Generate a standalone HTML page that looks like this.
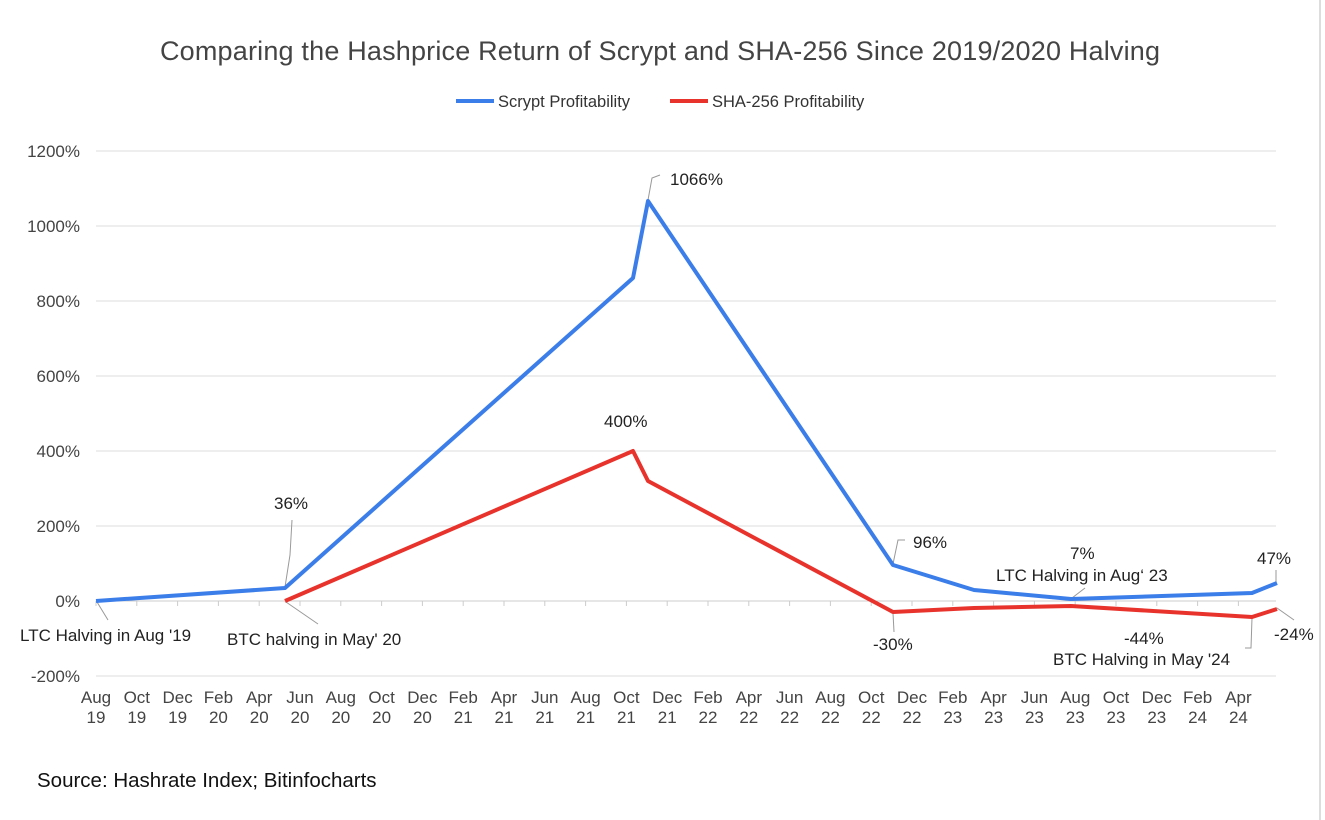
<!DOCTYPE html>
<html><head><meta charset="utf-8"><style>
html,body{margin:0;padding:0;background:#fff;}
svg{display:block;font-family:"Liberation Sans",Arial,sans-serif;}
</style></head><body>
<svg width="1325" height="820" viewBox="0 0 1325 820" xmlns="http://www.w3.org/2000/svg">
<rect width="1325" height="820" fill="#fff"/>
<line x1="1320" y1="0" x2="1320" y2="820" stroke="#bbb" stroke-width="1"/>
<text x="660" y="60" font-size="27" fill="#444" text-anchor="middle" textLength="1000">Comparing the Hashprice Return of Scrypt and SHA-256 Since 2019/2020 Halving</text>
<line x1="456" y1="101" x2="494" y2="101" stroke="#3b7de9" stroke-width="4"/>
<text x="498" y="107" font-size="16.5" fill="#333">Scrypt Profitability</text>
<line x1="670" y1="101" x2="708" y2="101" stroke="#e8332d" stroke-width="4"/>
<text x="712" y="107" font-size="16.5" fill="#333">SHA-256 Profitability</text>
<g stroke="#ddd" stroke-width="1">
<line x1="96" y1="151" x2="1276" y2="151"/>
<line x1="96" y1="226" x2="1276" y2="226"/>
<line x1="96" y1="301" x2="1276" y2="301"/>
<line x1="96" y1="376" x2="1276" y2="376"/>
<line x1="96" y1="451" x2="1276" y2="451"/>
<line x1="96" y1="526" x2="1276" y2="526"/>
<line x1="96" y1="676" x2="1276" y2="676"/>
<line x1="96" y1="601" x2="1276" y2="601" stroke="#ccc"/>
</g>
<g font-size="17" fill="#444" text-anchor="end">
<text x="80" y="157">1200%</text><text x="80" y="232">1000%</text><text x="80" y="307">800%</text>
<text x="80" y="382">600%</text><text x="80" y="457">400%</text><text x="80" y="532">200%</text>
<text x="80" y="607">0%</text><text x="80" y="682">-200%</text>
</g>
<path stroke="#ccc" stroke-width="1" d="M96 601v5M136.8 601v5M177.6 601v5M218.4 601v5M259.2 601v5M300 601v5M340.8 601v5M381.6 601v5M422.4 601v5M463.2 601v5M504 601v5M544.8 601v5M585.6 601v5M626.4 601v5M667.2 601v5M708 601v5M748.8 601v5M789.6 601v5M830.4 601v5M871.2 601v5M912 601v5M952.8 601v5M993.6 601v5M1034.4 601v5M1075.2 601v5M1116 601v5M1156.8 601v5M1197.6 601v5M1238.4 601v5"/>
<g font-size="17" fill="#444" text-anchor="middle">
<text x="96" y="703">Aug</text><text x="96" y="723">19</text>
<text x="136.8" y="703">Oct</text><text x="136.8" y="723">19</text>
<text x="177.6" y="703">Dec</text><text x="177.6" y="723">19</text>
<text x="218.4" y="703">Feb</text><text x="218.4" y="723">20</text>
<text x="259.2" y="703">Apr</text><text x="259.2" y="723">20</text>
<text x="300" y="703">Jun</text><text x="300" y="723">20</text>
<text x="340.8" y="703">Aug</text><text x="340.8" y="723">20</text>
<text x="381.6" y="703">Oct</text><text x="381.6" y="723">20</text>
<text x="422.4" y="703">Dec</text><text x="422.4" y="723">20</text>
<text x="463.2" y="703">Feb</text><text x="463.2" y="723">21</text>
<text x="504" y="703">Apr</text><text x="504" y="723">21</text>
<text x="544.8" y="703">Jun</text><text x="544.8" y="723">21</text>
<text x="585.6" y="703">Aug</text><text x="585.6" y="723">21</text>
<text x="626.4" y="703">Oct</text><text x="626.4" y="723">21</text>
<text x="667.2" y="703">Dec</text><text x="667.2" y="723">21</text>
<text x="708" y="703">Feb</text><text x="708" y="723">22</text>
<text x="748.8" y="703">Apr</text><text x="748.8" y="723">22</text>
<text x="789.6" y="703">Jun</text><text x="789.6" y="723">22</text>
<text x="830.4" y="703">Aug</text><text x="830.4" y="723">22</text>
<text x="871.2" y="703">Oct</text><text x="871.2" y="723">22</text>
<text x="912" y="703">Dec</text><text x="912" y="723">22</text>
<text x="952.8" y="703">Feb</text><text x="952.8" y="723">23</text>
<text x="993.6" y="703">Apr</text><text x="993.6" y="723">23</text>
<text x="1034.4" y="703">Jun</text><text x="1034.4" y="723">23</text>
<text x="1075.2" y="703">Aug</text><text x="1075.2" y="723">23</text>
<text x="1116" y="703">Oct</text><text x="1116" y="723">23</text>
<text x="1156.8" y="703">Dec</text><text x="1156.8" y="723">23</text>
<text x="1197.6" y="703">Feb</text><text x="1197.6" y="723">24</text>
<text x="1238.4" y="703">Apr</text><text x="1238.4" y="723">24</text>
</g>
<g stroke="#999" stroke-width="1" fill="none">
<polyline points="97,602 108,620"/>
<polyline points="286,602 318,624"/>
<polyline points="285,587 290,555 292,520"/>
<polyline points="648,200 652,178 660,175"/>
<polyline points="893,564 898,540 905,540"/>
<polyline points="893,613 894,632"/>
<polyline points="1072,598 1085,588"/>
<polyline points="1252,618 1251,648 1245,648"/>
<polyline points="1277,608 1294,620"/>
<polyline points="1276,583 1276,570"/>
</g>
<polyline fill="none" stroke="#3b7de9" stroke-width="4" stroke-linejoin="round" points="96,601 285,588 633,278 648,201 893,565 974,590 1071,599 1252,593 1277,583"/>
<polyline fill="none" stroke="#e8332d" stroke-width="4" stroke-linejoin="round" points="285,601 633,451 648,481 893,612 974,608 1071,606 1252,617 1277,609"/>
<g font-size="17" fill="#222">
<text x="20" y="641">LTC Halving in Aug '19</text>
<text x="227" y="645">BTC halving in May' 20</text>
<text x="274" y="509">36%</text>
<text x="604" y="427">400%</text>
<text x="670" y="185">1066%</text>
<text x="913" y="548">96%</text>
<text x="873" y="650">-30%</text>
<text x="1070" y="559">7%</text>
<text x="996" y="581">LTC Halving in Aug‘ 23</text>
<text x="1124" y="644">-44%</text>
<text x="1053" y="665">BTC Halving in May '24</text>
<text x="1257" y="564">47%</text>
<text x="1274" y="640">-24%</text>
</g>
<text x="37" y="787" font-size="20.5" fill="#111">Source: Hashrate Index; Bitinfocharts</text>
</svg>
</body></html>
